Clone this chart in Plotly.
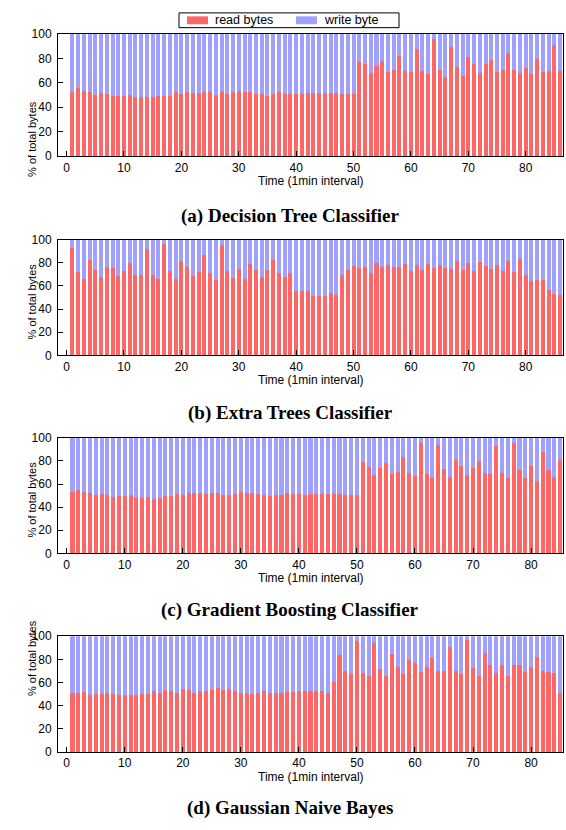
import plotly.graph_objects as go

# ---------------- data ----------------
read_a = [52.8, 55.5, 53, 52.3, 49.6, 51.5, 50.7, 49, 49, 49, 50, 48, 48, 48, 48, 48.8, 48.8, 49.3, 52.3, 51,
          52.5, 52, 51.5, 52.3, 52.5, 50, 52.3, 51.2, 52.3, 53.4, 52.8, 52.8, 51.2, 51, 48.8, 51, 52.5, 51.2, 50.7, 51,
          51, 51.7, 51.5, 51.5, 51.5, 51.5, 51.5, 50.7, 50.7, 50.4,
          77, 75, 67.8, 73.7, 78, 68.4, 70.5, 81.8, 69.7, 68.4, 88, 69.4, 66.8, 96, 70.8, 65, 89.5, 73.2, 65.7, 81.2,
          75.6, 67.6, 75, 78.8, 69.2, 70.5, 84.2, 70.5, 67.8, 71.8, 67, 79.6, 69.2, 69.7, 90.6, 69.7]
read_b = [92.9, 71.7, 66, 82.2, 73.7, 67.4, 76.5, 75.9, 68.3, 73.1, 80.2, 69.4, 69.4, 92, 69.4, 66, 96.3, 72.5, 66, 81.6,
          76.8, 68.8, 71.7, 86.4, 70.8, 65.4, 95.8, 73.1, 66.6, 75, 65.7, 79.3, 73.9, 68, 73.7, 82.2, 70.8, 68, 71.1,
          56, 56, 56, 51.3, 51.3, 51.3, 54, 52.4,
          69.4, 73.9, 77.3, 75.9, 76.5, 71.4, 80.2, 76.5, 77.9, 76.2, 76.2, 78.8, 73.1, 78.2, 73.7, 79.3, 75.9, 78.2,
          75.4, 74.5, 81.6, 73.9, 80.2, 73.1, 80.5, 77.6, 74.8, 77.9, 72.8, 81.3, 71.7, 83, 69.4, 64.6, 64.9, 65.2,
          56.9, 53, 52.4]
read_c = [53.1, 55.1, 53.4, 52, 50.3, 51.1, 50.6, 48.9, 49.4, 49.4, 50.3, 48.3, 48.3, 48.6, 47.4, 48.3, 49.4, 49.4, 51.7, 50.9,
          52, 52, 52.3, 51.1, 52.6, 52, 50.9, 50.9, 51.7, 53.4, 52.6, 52.6, 51.7, 50.9, 49.4, 50.9, 50.9, 52, 51.4, 51.4,
          50.9, 51.7, 51.7, 51.1, 51.1, 51.7, 51.7, 50.3, 50.9, 50.6,
          79.3, 75, 67.9, 73.9, 78.4, 68.8, 70.2, 83.5, 69.9, 67.3, 95.7, 68.5, 65.6, 93.5, 73, 65.9, 81, 75.9, 67.9, 74.1,
          80.4, 69.6, 69, 92.9, 69.3, 65.6, 96, 72.4, 65.6, 75.9, 62.5, 88, 72.2, 66.5, 81]
read_d = [51, 51, 51.8, 49, 50.1, 50.1, 50.7, 49.9, 49, 49, 49, 49, 49.9, 49.9, 52.4, 51, 53.3, 52.4, 51, 54.1,
          53.5, 51, 53, 52.4, 53.5, 55, 53.8, 54.1, 52.4, 51, 51, 50.4, 51, 52.4, 51, 51, 51.3, 52.1, 52.1, 52.7,
          52.7, 52.7, 52.7, 52.4, 51,
          60.1, 83.5, 70.1, 67.2, 95.7, 68.4, 65.5, 94.3, 71.8, 65.5, 84.9, 73.2, 67, 79.2, 76.9, 68.7, 73.2, 81.2, 70.1, 70.1,
          90.6, 70.1, 67, 96.6, 72.1, 65.5, 85.5, 74.9, 67.8, 74.9, 65.5, 74.9, 74.9, 68.7, 73.2, 82.1, 70.1, 69.2, 68.1, 51.3]

panels = [read_a, read_b, read_c, read_d]
captions = ["(a) Decision Tree Classifier", "(b) Extra Trees Classifier",
            "(c) Gradient Boosting Classifier", "(d) Gaussian Naive Bayes"]
x_tick_vals = [0, 10, 20, 30, 40, 50, 60, 70, 80]
y_tick_vals = [0, 20, 40, 60, 80, 100]
series_names = ["read bytes", "write byte"]

# ---------------- styling / layout ----------------
W, H = 566, 830
RED = "rgb(255,102,102)"
BLUE = "rgb(160,160,255)"
FONT = "Liberation Sans, Arial, sans-serif"
SERIF = "Liberation Serif, Times New Roman, serif"

# pixel layout of each panel: (top, bottom, caption_y)
px = [(27.3, 151.7, 213), (236.7, 354.3, 413),
      (438.3, 555.7, 613), (640.0, 757.7, 815)]
x_left, x_right = 58, 563


def fx(p):
    return p / W


def fy(p):
    return 1 - p / H


fig = go.Figure()
annotations = []
for i, vals in enumerate(panels):
    n = len(vals)
    xs = list(range(1, n + 1))
    write = [round(100 - v, 2) for v in vals]
    ax = "" if i == 0 else str(i + 1)
    fig.add_trace(go.Bar(x=xs, y=vals, name=series_names[0], marker_color=RED, marker_line_width=0,
                         xaxis="x" + ax, yaxis="y" + ax, showlegend=False))
    fig.add_trace(go.Bar(x=xs, y=write, name=series_names[1], marker_color=BLUE, marker_line_width=0,
                         xaxis="x" + ax, yaxis="y" + ax, showlegend=False))
    top, bot, cap = px[i]
    xa = dict(domain=[fx(x_left), fx(x_right)], range=[-1.5, n + 0.5],
              tickvals=x_tick_vals, ticks="inside", ticklen=5, tickcolor="black",
              showline=True, linecolor="black", linewidth=1, mirror=True,
              showgrid=False, zeroline=False, tickfont=dict(family=FONT, size=12, color="black"),
              anchor="y" + ax)
    ya = dict(domain=[fy(bot), fy(top)], range=[0, 100],
              tickvals=y_tick_vals, ticks="inside", ticklen=5, tickcolor="black",
              showline=True, linecolor="black", linewidth=1, mirror=True, ticklabelstandoff=3,
              showgrid=False, zeroline=False, tickfont=dict(family=FONT, size=12, color="black"),
              anchor="x" + ax)
    fig.update_layout(**{"xaxis" + ax: xa, "yaxis" + ax: ya})
    annotations.append(dict(text="% of total bytes", textangle=-90, x=fx(24), y=fy((top + bot) / 2 + 4),
                            xref="paper", yref="paper", showarrow=False,
                            font=dict(family=FONT, size=11, color="black")))
    annotations.append(dict(text="Time (1min interval)", x=fx((x_left + x_right) / 2), y=fy(bot + 25.5),
                            xref="paper", yref="paper", showarrow=False, yanchor="middle",
                            font=dict(family=FONT, size=12, color="black")))
    annotations.append(dict(text="<b>" + captions[i] + "</b>", x=fx(290), y=fy(cap),
                            xref="paper", yref="paper", showarrow=False, yanchor="middle",
                            font=dict(family=SERIF, size=19, color="black")))

# legend drawn as a boxed key at the top
shapes = [
    dict(type="rect", xref="paper", yref="paper", x0=fx(179), x1=fx(399), y0=fy(21), y1=fy(6),
         line=dict(color="black", width=1), fillcolor="white"),
    dict(type="rect", xref="paper", yref="paper", x0=fx(187), x1=fx(208), y0=fy(17.5), y1=fy(9.5),
         line=dict(width=0), fillcolor=RED),
    dict(type="rect", xref="paper", yref="paper", x0=fx(296), x1=fx(317), y0=fy(17.5), y1=fy(9.5),
         line=dict(width=0), fillcolor=BLUE),
]
annotations.append(dict(text=series_names[0], x=fx(213), y=fy(13.5), xref="paper", yref="paper",
                        xanchor="left", yanchor="middle", showarrow=False,
                        font=dict(family=FONT, size=12.5, color="black")))
annotations.append(dict(text=series_names[1], x=fx(322), y=fy(13.5), xref="paper", yref="paper",
                        xanchor="left", yanchor="middle", showarrow=False,
                        font=dict(family=FONT, size=12.5, color="black")))

fig.update_layout(
    width=W, height=H, margin=dict(l=0, r=0, t=0, b=0),
    barmode="stack", bargap=0.3,
    paper_bgcolor="white", plot_bgcolor="white",
    annotations=annotations, shapes=shapes, showlegend=False,
)

fig.write_html("out.html", config={"displayModeBar": False},
               post_script="document.body.style.margin='0px';document.body.style.overflow='hidden';")
